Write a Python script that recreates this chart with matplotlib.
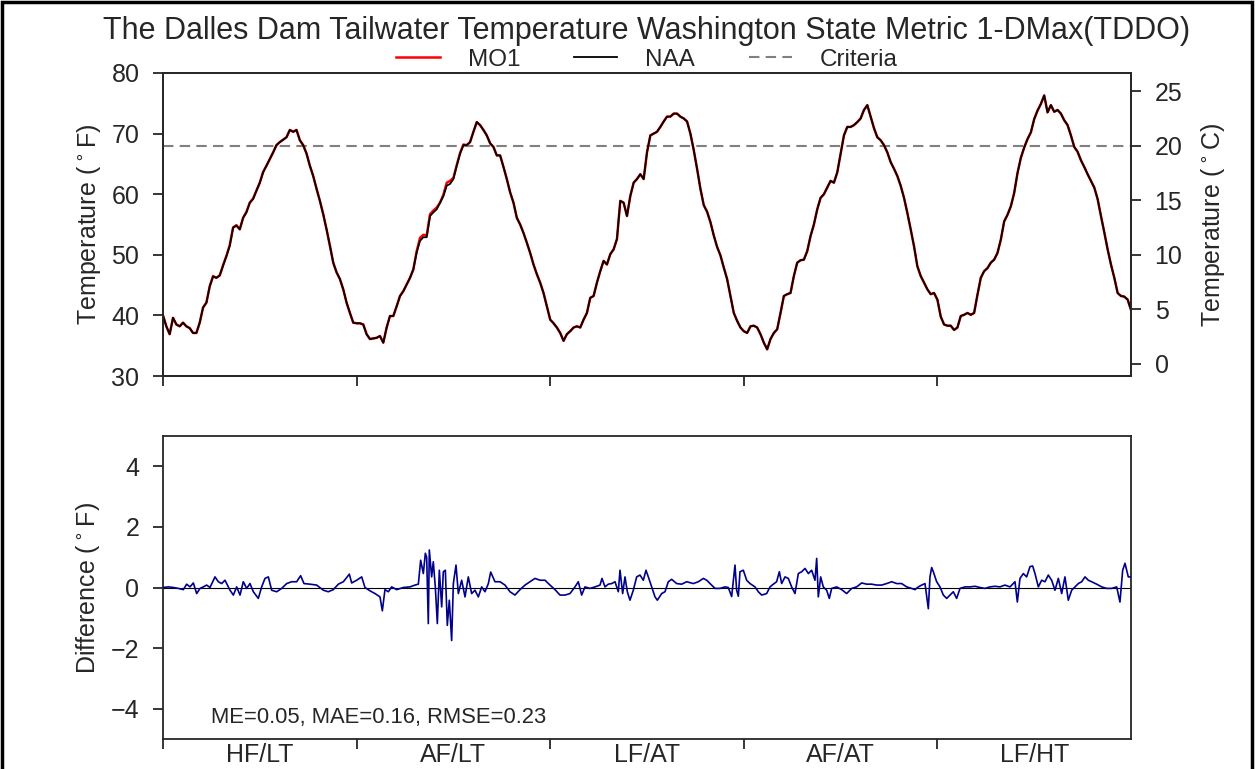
import numpy as np
import matplotlib
matplotlib.use("Agg")
import matplotlib.pyplot as plt
from matplotlib.patches import Rectangle

plt.rcParams['font.family'] = ['Liberation Sans', 'DejaVu Sans']
TXT = '#262626'

# ---------------- data ----------------
year_labels = ['HF/LT', 'AF/LT', 'LF/AT', 'AF/AT', 'LF/HT']
days_per_year = 365
criteria_F = 68.0

naa_F = [
    # year 1
    40.0, 38.2, 36.9, 39.6, 38.5, 38.2, 38.8, 38.2, 37.9, 37.1,
    37.1, 38.8, 41.3, 42.1, 44.8, 46.4, 46.2, 46.6, 48.2, 49.8,
    51.5, 54.5, 54.8, 54.2, 56.1, 57.0, 58.6, 59.2, 60.6, 61.9,
    63.6, 64.7, 65.8, 66.9, 68.1, 68.6, 69.0, 69.4, 70.6, 70.3,
    70.6, 68.9, 68.1, 66.7, 64.7, 63.0, 60.9, 58.9, 56.7, 54.2,
    51.5, 48.7, 47.1, 46.0, 44.3, 42.1, 40.4, 38.8,
    # year 2
    38.7, 38.7, 38.5, 36.9, 36.1, 36.2, 36.3, 36.6, 35.5, 38.0,
    39.9, 39.9, 41.5, 43.2, 44.0, 45.1, 46.2, 47.6, 50.4, 52.3,
    52.9, 52.9, 56.4, 57.0, 57.5, 58.6, 59.7, 61.4, 61.7, 62.5,
    64.7, 66.7, 68.1, 68.1, 68.6, 70.3, 71.9, 71.4, 70.6, 69.7,
    68.4, 67.8, 66.4, 66.4, 64.5, 62.5, 60.3, 58.6, 56.1, 55.0,
    53.6, 52.0, 50.3, 48.4, 46.8, 45.4, 43.7, 41.5,
    # year 3
    39.3, 38.7, 38.0, 37.1, 35.8, 36.9, 37.4, 38.0, 38.2, 38.0,
    39.3, 40.4, 42.9, 43.2, 45.4, 47.3, 49.0, 48.4, 50.1, 50.9,
    52.6, 58.9, 58.6, 56.4, 59.7, 61.9, 62.5, 63.3, 62.5, 66.9,
    69.7, 70.0, 70.3, 71.1, 72.0, 72.8, 72.8, 73.3, 73.3, 72.8,
    72.5, 72.0, 70.0, 67.3, 64.2, 60.9, 58.2, 57.1, 55.4, 53.2,
    51.3, 49.9, 47.9, 46.0, 43.2, 40.4, 39.1, 38.0,
    # year 4
    37.4, 37.1, 38.2, 38.3, 38.0, 36.9, 35.5, 34.4, 36.1, 37.1,
    37.7, 40.4, 43.2, 43.5, 43.7, 46.5, 48.7, 49.1, 49.2, 50.6,
    53.1, 55.0, 57.5, 59.4, 60.0, 61.1, 62.2, 61.9, 63.6, 66.6,
    69.7, 71.1, 71.1, 71.4, 71.9, 72.5, 73.9, 74.7, 72.8, 70.9,
    69.4, 68.9, 68.1, 66.9, 65.3, 64.2, 63.0, 61.4, 59.4, 56.9,
    54.2, 51.4, 48.1, 46.5, 45.4, 44.3, 43.5, 43.7,
    # year 5
    42.6, 39.8, 38.5, 38.3, 38.3, 37.6, 38.0, 39.9, 40.1, 40.4,
    40.1, 40.4, 43.4, 46.2, 47.3, 47.8, 48.7, 49.2, 50.3, 52.5,
    55.5, 56.6, 58.0, 60.2, 63.5, 66.0, 67.7, 69.1, 70.2, 72.4,
    73.8, 74.9, 76.3, 73.5, 74.7, 73.6, 73.9, 73.3, 72.2, 71.4,
    69.7, 67.8, 67.0, 65.6, 64.5, 63.3, 62.2, 61.1, 59.2, 56.4,
    53.7, 50.9, 48.4, 46.2, 43.7, 43.2, 43.1, 42.6, 40.9,
]

mo1_F = [
    # year 1
    40.0, 38.2, 36.9, 39.6, 38.5, 38.2, 38.8, 38.2, 37.9, 37.1,
    37.1, 38.8, 41.3, 42.1, 44.8, 46.5, 46.2, 46.6, 48.3, 49.8,
    51.6, 54.5, 54.9, 54.2, 56.1, 57.1, 58.6, 59.3, 60.6, 61.9,
    63.7, 64.7, 65.8, 66.9, 68.1, 68.6, 69.0, 69.4, 70.6, 70.3,
    70.6, 68.9, 68.1, 66.7, 64.7, 63.0, 60.9, 58.9, 56.7, 54.2,
    51.5, 48.7, 47.1, 46.0, 44.3, 42.1, 40.4, 38.8,
    # year 2
    38.7, 38.7, 38.5, 36.9, 36.1, 36.2, 36.3, 36.6, 35.5, 38.0,
    39.9, 39.9, 41.5, 43.2, 44.0, 45.1, 46.2, 47.6, 50.6, 52.8,
    53.3, 53.2, 56.7, 57.3, 57.8, 58.6, 59.9, 61.9, 62.2, 62.7,
    64.8, 66.8, 68.2, 68.1, 68.6, 70.3, 71.9, 71.4, 70.6, 69.7,
    68.4, 67.8, 66.4, 66.4, 64.5, 62.5, 60.3, 58.6, 56.1, 55.0,
    53.6, 52.0, 50.3, 48.4, 46.8, 45.4, 43.7, 41.5,
    # year 3
    39.3, 38.7, 38.0, 37.1, 35.8, 36.9, 37.4, 38.0, 38.2, 38.0,
    39.3, 40.4, 42.9, 43.2, 45.4, 47.3, 49.0, 48.4, 50.1, 50.9,
    52.6, 58.9, 58.6, 56.4, 59.7, 61.9, 62.5, 63.3, 62.5, 66.9,
    69.7, 70.0, 70.3, 71.1, 72.0, 72.8, 72.8, 73.3, 73.3, 72.8,
    72.5, 72.0, 70.0, 67.3, 64.2, 60.9, 58.2, 57.1, 55.4, 53.2,
    51.3, 49.9, 47.9, 46.0, 43.2, 40.4, 39.1, 38.0,
    # year 4
    37.4, 37.1, 38.2, 38.3, 38.0, 36.9, 35.5, 34.4, 36.1, 37.1,
    37.7, 40.4, 43.2, 43.5, 43.7, 46.5, 48.7, 49.1, 49.2, 50.6,
    53.1, 55.0, 57.5, 59.4, 60.0, 61.1, 62.2, 61.9, 63.6, 66.6,
    69.7, 71.1, 71.1, 71.4, 71.9, 72.5, 73.9, 74.7, 72.8, 70.9,
    69.4, 68.9, 68.1, 66.9, 65.3, 64.2, 63.0, 61.4, 59.4, 56.9,
    54.2, 51.4, 48.1, 46.5, 45.4, 44.3, 43.5, 43.7,
    # year 5
    42.6, 39.8, 38.5, 38.3, 38.3, 37.6, 38.0, 39.9, 40.1, 40.4,
    40.1, 40.4, 43.4, 46.2, 47.3, 47.8, 48.7, 49.2, 50.3, 52.5,
    55.5, 56.6, 58.0, 60.2, 63.5, 66.0, 67.7, 69.1, 70.2, 72.4,
    73.8, 74.9, 76.3, 73.5, 74.7, 73.6, 73.9, 73.3, 72.2, 71.4,
    69.7, 67.8, 67.0, 65.6, 64.5, 63.3, 62.2, 61.1, 59.2, 56.4,
    53.7, 50.9, 48.4, 46.2, 43.7, 43.2, 43.1, 42.6, 40.9,
]

diff_days = [
    0.0, 10.1, 19.5, 28.9, 38.3, 44.6, 50.9, 57.2, 63.5, 69.8,
    76.0, 82.3, 88.6, 98.0, 104.3, 110.6, 116.9, 126.3, 132.6, 138.9,
    145.2, 151.4, 157.7, 164.0, 170.3, 179.7, 186.0, 192.3, 198.6, 204.9,
    214.3, 223.7, 233.2, 242.6, 252.0, 259.5, 265.8, 277.1, 289.7, 302.3,
    311.7, 321.1, 330.6, 340.0, 351.3, 355.7, 365.1, 374.6, 380.8, 390.3,
    399.7, 409.1, 413.5, 418.5, 424.8, 431.1, 440.5, 453.1, 465.6, 475.1,
    481.4, 485.8, 490.8, 494.6, 497.1, 500.2, 502.1, 506.5, 509.6, 513.4,
    517.2, 521.0, 525.4, 528.5, 532.3, 536.0, 539.8, 544.2, 547.4, 552.4,
    556.8, 563.1, 569.4, 575.6, 581.9, 588.2, 594.5, 600.8, 607.1, 613.4,
    617.8, 625.9, 635.4, 644.8, 654.2, 663.6, 673.1, 682.5, 691.9, 701.3,
    710.8, 720.2, 729.6, 739.0, 748.5, 757.9,
    767.3, 776.7, 783.0, 789.3, 795.6, 805.0, 814.5, 823.9, 827.7, 833.3,
    839.6, 845.9, 852.2, 858.4, 861.6, 866.6, 871.0, 875.4, 880.4, 886.7,
    893.0, 899.3, 905.6, 910.6, 915.0, 921.3, 927.6, 932.0, 940.2, 946.4,
    952.7, 959.0, 968.4, 977.9, 987.3, 999.8, 1009.3, 1018.7, 1025.0, 1031.3,
    1040.7, 1050.1, 1059.5, 1065.8, 1072.1, 1078.4, 1081.5, 1084.7, 1087.8, 1094.1,
    1100.4, 1106.7, 1116.1, 1122.4, 1128.7, 1138.1, 1144.4, 1150.7, 1156.9, 1162.0,
    1166.4, 1172.7, 1178.9, 1185.2, 1191.5, 1197.8, 1204.1, 1210.4, 1216.7, 1222.9,
    1229.2, 1232.4, 1235.5, 1239.9, 1244.9, 1251.2, 1256.2, 1260.6, 1270.1, 1279.5,
    1288.9, 1298.4, 1307.8, 1317.2, 1326.6, 1336.1, 1345.5, 1354.9, 1364.4, 1373.8,
    1383.2, 1392.6, 1402.1, 1411.5, 1417.7, 1424.0, 1430.3, 1436.6, 1442.9, 1446.0,
    1449.2, 1452.3, 1458.6, 1464.9, 1471.2, 1477.5, 1483.7, 1490.0, 1496.3,
    1502.6, 1512.0, 1521.4, 1530.9, 1540.3, 1549.7, 1559.1, 1568.6, 1578.0, 1587.4,
    1596.9, 1606.3, 1610.7, 1615.7, 1622.0, 1628.3, 1634.6, 1639.6, 1644.0, 1650.3,
    1656.6, 1662.8, 1669.1, 1675.4, 1681.7, 1688.0, 1694.3, 1700.5, 1706.8, 1713.1,
    1719.4, 1725.7, 1732.0, 1738.3, 1744.5, 1750.8, 1760.3, 1769.7, 1779.1, 1788.5,
    1798.0, 1804.2, 1809.3, 1813.7, 1819.9, 1825.0,
]

diff_F = [
    0.00, 0.02, 0.00, -0.03, -0.07, 0.11, 0.02, 0.15, -0.20, -0.03,
    0.02, 0.08, 0.00, 0.35, 0.19, 0.13, 0.24, -0.09, -0.25, 0.02,
    -0.25, 0.19, -0.03, 0.13, -0.14, -0.36, 0.02, 0.30, 0.35, -0.09,
    -0.14, -0.03, 0.13, 0.19, 0.19, 0.39, 0.13, 0.11, 0.08, -0.09,
    -0.14, -0.07, 0.11, 0.19, 0.44, 0.15, 0.24, 0.35, 0.00, -0.11,
    -0.20, -0.31, -0.77, -0.07, -0.14, 0.02, -0.07, 0.00, 0.02, 0.08,
    0.11, 0.90, 0.46, 1.13, 1.00, -1.19, 1.24, 0.35, 0.85, 0.02,
    -1.19, 0.57, -0.64, 0.52, 0.57, -1.25, -0.42, -1.75, 0.13, 0.74,
    -0.20, 0.24, -0.31, 0.35, -0.20, -0.09, -0.31, 0.02, -0.14, 0.13,
    0.51, 0.19, 0.19, 0.08, -0.14, -0.25, -0.07, 0.08, 0.19, 0.30,
    0.24, 0.24, 0.08, -0.07, -0.25, -0.25,
    -0.20, 0.02, 0.19, -0.25, 0.02, -0.03, 0.02, 0.08, 0.30, 0.02,
    0.11, 0.13, 0.19, -0.14, 0.57, -0.20, 0.35, -0.14, -0.42, -0.09,
    0.35, 0.41, 0.24, 0.57, 0.35, 0.02, -0.31, -0.42, -0.20, -0.14,
    0.19, 0.27, 0.13, 0.11, 0.19, 0.13, 0.19, 0.30, 0.24, 0.13,
    -0.03, -0.03, 0.02, 0.00, -0.30, 0.74, -0.09, -0.29, 0.52, 0.57,
    0.24, 0.13, 0.02, -0.14, -0.25, -0.20, 0.02, 0.11, 0.19, 0.52,
    0.13, 0.35, 0.30, 0.02, -0.20, 0.46, 0.52, 0.63, 0.46, 0.57,
    0.24, 0.96, -0.31, 0.35, 0.02, -0.09, -0.36, -0.03, 0.02, -0.07,
    -0.20, -0.03, 0.02, 0.15, 0.11, 0.11, 0.08, 0.08, 0.13, 0.19,
    0.13, 0.13, 0.02, -0.03, -0.07, 0.02, 0.08, 0.13, -0.70, 0.35,
    0.66, 0.52, 0.19, 0.02, -0.25, -0.36, -0.25, -0.14, -0.36,
    -0.03, 0.02, 0.02, 0.04, 0.00, -0.03, 0.02, 0.04, 0.02, 0.08,
    0.02, 0.19, -0.48, 0.30, 0.46, 0.35, 0.69, 0.71, 0.46, 0.02,
    0.24, 0.19, 0.41, 0.24, -0.09, 0.30, -0.20, 0.35, -0.42, -0.09,
    0.02, 0.13, 0.19, 0.35, 0.24, 0.19, 0.11, 0.02, -0.03, -0.03,
    0.02, -0.48, 0.57, 0.80, 0.35, 0.35,
]

stats_text = 'ME=0.05, MAE=0.16, RMSE=0.23'
title_text = 'The Dalles Dam Tailwater Temperature Washington State Metric 1-DMax(TDDO)'

# ---------------- figure ----------------
W, H = 1257, 769
fig = plt.figure(figsize=(W / 100, H / 100), dpi=100)
fig.patch.set_facecolor('white')

def fx(px):
    return px / W

def fy(py):
    return 1 - py / H

ax1 = fig.add_axes([fx(163), fy(376), fx(1131) - fx(163), fy(73) - fy(376)])
ax2 = fig.add_axes([fx(163), fy(739), fx(1131) - fx(163), fy(436) - fy(739)])

FS = 18

n = len(naa_F)
days = np.arange(n) * (days_per_year / 58.0)
total_days = days_per_year * len(year_labels)

ax1.plot(days, mo1_F, color='red', lw=1.8, label='MO1', zorder=2)
ax1.plot(days, naa_F, color='black', lw=1.3, label='NAA', zorder=3)
ax1.axhline(criteria_F, color='#808080', lw=1.5, ls=(0, (5, 3)), label='Criteria', zorder=1)
ax1.set_xlim(0, total_days)
ax1.set_ylim(30, 80)
ax1.set_yticks([30, 40, 50, 60, 70, 80])
ax1.set_ylabel('Temperature ($^\\circ$F)', fontsize=FS, color=TXT, labelpad=6)

axc = ax1.twinx()
axc.set_ylim((30 - 32) / 1.8, (80 - 32) / 1.8)
axc.set_yticks([0, 5, 10, 15, 20, 25])
axc.set_ylabel('Temperature ($^\\circ$C)', fontsize=FS, color=TXT, labelpad=12)

ax2.plot(diff_days, diff_F, color='#00008B', lw=1.2, zorder=3)
ax2.axhline(0, color='black', lw=0.8, zorder=2)
ax2.set_xlim(0, total_days)
ax2.set_ylim(-5, 5)
ax2.set_yticks([-4, -2, 0, 2, 4])
ax2.set_yticklabels(['\u22124', '\u22122', '0', '2', '4'])
ax2.set_ylabel('Difference ($^\\circ$F)', fontsize=FS, color=TXT, labelpad=6)
ax2.text(0.05, 0.07, stats_text, transform=ax2.transAxes, fontsize=15.8,
         color=TXT, ha='left', va='center')

year_starts = [i * days_per_year for i in range(len(year_labels))]
year_mids = [i * days_per_year + days_per_year / 2 for i in range(len(year_labels))]
for a in (ax1, ax2):
    a.set_xticks(year_starts)
    a.set_xticklabels([])
    for s in a.spines.values():
        s.set_color(TXT)
        s.set_linewidth(1.3)
    a.tick_params(axis='both', which='major', direction='out', length=7, width=1.3,
                  color=TXT, labelcolor=TXT, labelsize=FS, pad=10)
ax2.set_xticks(year_mids, minor=True)
ax2.set_xticklabels(year_labels, minor=True)
ax2.tick_params(axis='x', which='minor', length=0, labelsize=FS, labelcolor=TXT, pad=3)
for s in axc.spines.values():
    s.set_color(TXT)
    s.set_linewidth(1.3)
axc.tick_params(axis='y', direction='out', length=7, width=1.3, color=TXT,
                labelcolor=TXT, labelsize=FS, pad=10)

h, l = ax1.get_legend_handles_labels()
ax1.legend(h, l, loc='lower center', bbox_to_anchor=(0.5, 0.975), ncol=3, frameon=False,
           fontsize=17.5, columnspacing=2.2, handlelength=1.8, handletextpad=1.15,
           borderaxespad=0.0, labelcolor=TXT)

fig.text(fx(647), fy(31), title_text, fontsize=22, color=TXT, ha='center', va='center')

fig.add_artist(Rectangle((fx(2), -0.05), fx(1252) - fx(2), fy(2) + 0.05,
                         transform=fig.transFigure, fill=False, edgecolor='black', lw=2.5))

fig.savefig('out.png', dpi=100)
